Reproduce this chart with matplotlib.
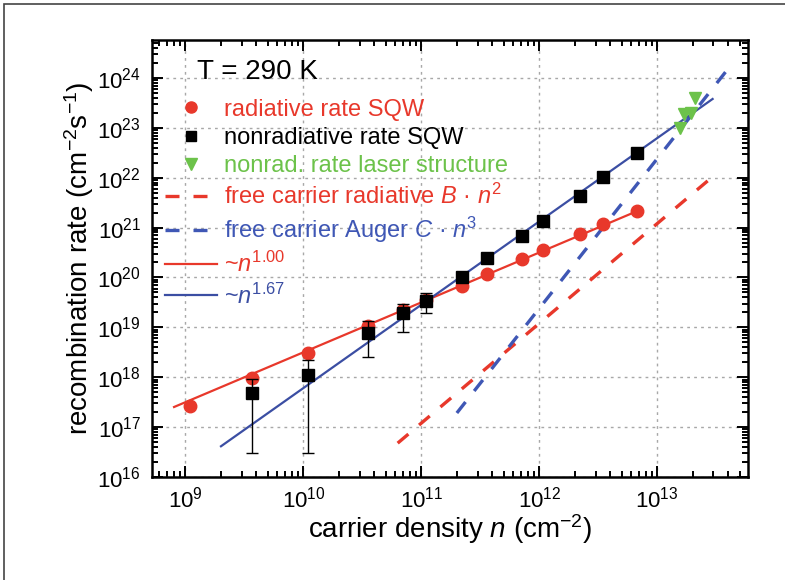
import numpy as np
import matplotlib
matplotlib.use("Agg")
import matplotlib.pyplot as plt
from matplotlib.ticker import LogLocator, NullFormatter
from matplotlib.lines import Line2D
from matplotlib.patches import Rectangle

plt.rcParams['font.family'] = ['Liberation Sans', 'DejaVu Sans']
plt.rcParams['mathtext.fontset'] = 'custom'
plt.rcParams['mathtext.rm'] = 'Liberation Sans'
plt.rcParams['mathtext.it'] = 'Liberation Sans:italic'
plt.rcParams['mathtext.bf'] = 'Liberation Sans:bold'

# ---- data ----
n_rad = [1.1e9, 3.7e9, 1.1e10, 3.5e10, 7.0e10, 1.1e11, 2.2e11, 3.6e11, 7.2e11, 1.07e12, 2.2e12, 3.5e12, 6.8e12]
r_rad = [2.7e17, 9.5e17, 3.0e18, 1.07e19, 2.2e19, 3.5e19, 6.8e19, 1.2e20, 2.3e20, 3.5e20, 7.4e20, 1.2e21, 2.1e21]

n_nr = [3.7e9, 1.1e10, 3.5e10, 7.0e10, 1.1e11, 2.2e11, 3.6e11, 7.2e11, 1.07e12, 2.2e12, 3.5e12, 6.8e12]
r_nr = [4.8e17, 1.1e18, 7.8e18, 1.9e19, 3.4e19, 1.0e20, 2.5e20, 6.8e20, 1.35e21, 4.3e21, 1.03e22, 3.1e22]
err_nr = [4.5e17, 1.07e18, 5.3e18, 1.1e19, 1.45e19, 0, 0, 0, 0, 0, 0, 0]

n_laser = [1.55e13, 1.7e13, 1.95e13, 2.1e13]
r_laser = [1.0e23, 1.9e23, 2.0e23, 3.9e23]

# power-law fit lines: (n range, exponent, prefactor)
fit1_n = [8.0e8, 6.8e12]
fit1_exp = 1.00
fit1_pref = 10 ** 8.5
fit2_n = [2.0e9, 2.95e13]
fit2_exp = 1.67
fit2_pref = 10 ** (19.52 - 1.67 * 11.04)

# free carrier models
B_n = [6.3e10, 3.2e13]
B_pref = 10 ** (16.68 - 2 * 10.80)
C_n = [2.0e11, 4.1e13]
C_pref = 10 ** (17.28 - 3 * 11.30)

RED = '#e8382b'
BLUE = '#3b4ea3'
BLUE_D = '#3f57b5'
GREEN = '#6cc24a'
DASH = (4.2, 4.2)

fig = plt.figure(figsize=(7.85, 5.80), dpi=100)
ax = fig.add_axes([152/785, 1 - 477/580, (748-152)/785, (477-40)/580])
ax.set_xscale('log')
ax.set_yscale('log')
ax.set_xlim(10**8.716, 10**13.77)
ax.set_ylim(1e16, 10**24.76)

def powerline(nr, pref, exp, num=50):
    n = np.logspace(np.log10(nr[0]), np.log10(nr[1]), num)
    return n, pref * n ** exp

x, y = powerline(B_n, B_pref, 2)
ax.plot(x, y, color=RED, lw=2.4, dashes=DASH, zorder=2)
x, y = powerline(C_n, C_pref, 3)
ax.plot(x, y, color=BLUE_D, lw=2.4, dashes=DASH, zorder=2)

x, y = powerline(fit1_n, fit1_pref, fit1_exp)
ax.plot(x, y, color=RED, lw=1.6, zorder=3)
x, y = powerline(fit2_n, fit2_pref, fit2_exp)
ax.plot(x, y, color=BLUE, lw=1.6, zorder=3)

ax.plot(n_rad, r_rad, 'o', color=RED, ms=9, zorder=4)
ax.errorbar(n_nr, r_nr, yerr=err_nr, fmt='none', ecolor='black', elinewidth=1, capsize=4, capthick=1, zorder=4)
ax.plot(n_nr, r_nr, 's', color='black', ms=8, zorder=5)
ax.plot(n_laser, r_laser, 'v', color=GREEN, ms=8.5, zorder=5)

# ticks / grid
ax.xaxis.set_major_locator(LogLocator(base=10, numticks=30))
ax.yaxis.set_major_locator(LogLocator(base=10, numticks=30))
ax.xaxis.set_minor_locator(LogLocator(base=10, subs=np.arange(2, 10), numticks=100))
ax.yaxis.set_minor_locator(LogLocator(base=10, subs=np.arange(2, 10), numticks=100))
ax.xaxis.set_minor_formatter(NullFormatter())
ax.yaxis.set_minor_formatter(NullFormatter())
ax.tick_params(which='both', direction='in', top=True, right=True, width=1.4, color='black')
ax.tick_params(which='major', length=8, labelsize=16, pad=8)
ax.tick_params(which='minor', length=4.5)
ax.tick_params(axis='x', which='major', pad=7)
for s in ax.spines.values():
    s.set_linewidth(1.8)
ax.grid(True, which='major', color='#a8a8a8', linestyle=(0, (2, 3)), lw=1)
ax.set_axisbelow(True)

ax.set_xlabel('carrier density $n$ (cm$^{-2}$)', fontsize=20, labelpad=0)
ax.set_ylabel('recombination rate (cm$^{-2}$s$^{-1}$)', fontsize=20, labelpad=1)

ax.text(0.0755, 0.927, 'T = 290 K', transform=ax.transAxes, fontsize=20, va='center', ha='left')

handles = [
    Line2D([], [], ls='none', marker='o', color=RED, ms=8),
    Line2D([], [], ls='none', marker='s', color='black', ms=7),
    Line2D([], [], ls='none', marker='v', color=GREEN, ms=8),
    Line2D([], [], color=RED, lw=2.4, dashes=DASH),
    Line2D([], [], color=BLUE_D, lw=2.4, dashes=DASH),
    Line2D([], [], color=RED, lw=1.6),
    Line2D([], [], color=BLUE, lw=1.6),
]
labels = [
    'radiative rate SQW',
    'nonradiative rate SQW',
    'nonrad. rate laser structure',
    'free carrier radiative $B$ · $n^2$',
    'free carrier Auger $C$ · $n^3$',
    '~$n^{1.00}$',
    '~$n^{1.67}$',
]
leg = ax.legend(handles, labels, loc='upper left', bbox_to_anchor=(13/596, 0.866),
                frameon=False, fontsize=17, handlelength=2.2, handletextpad=0.3,
                labelspacing=0.27, borderpad=0, borderaxespad=0,
                labelcolor=[RED, 'black', GREEN, RED, BLUE_D, RED, BLUE])

fig.patches.append(Rectangle((4/785, -0.1), 1.2, 1.1 - 4/580, transform=fig.transFigure,
                             fill=False, edgecolor='#444444', lw=1.2))

fig.savefig('out.png', dpi=100)
